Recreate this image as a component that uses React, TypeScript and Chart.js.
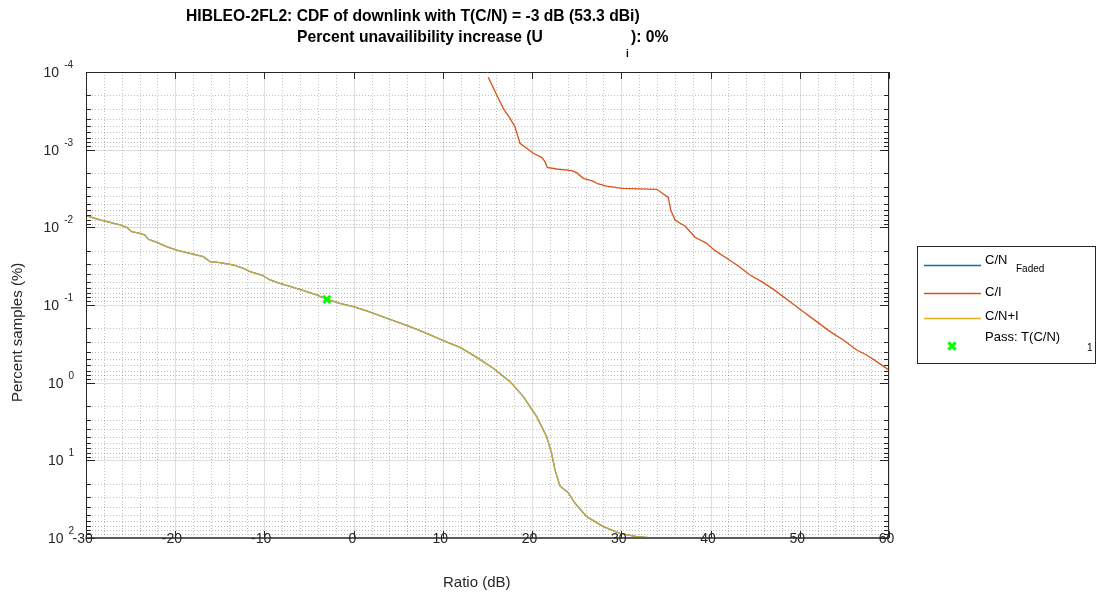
import { useEffect, useRef } from "react";
import { Chart, registerables } from "chart.js";

Chart.register(...registerables);

// ---------------- data ----------------
const cnRatio = [-30, -28.43, -26.19, -25.44, -24.88, -23.95, -23.39, -23.02, -22.27, -20.96, -19.84, -18.34, -16.85, -16.1, -14.98, -13.49, -12.37, -11.62, -10.31, -9.38, -8.26, -6.76, -5.27, -4.15, -2.95, -1.53, -0.04, 1.46, 4.07, 6.31, 8.18, 10.05, 11.92, 13.79, 15.65, 17.52, 19.02, 20.51, 21.63, 22.19, 22.56, 23.12, 24.06, 24.81, 26.12, 27.98, 29.85, 31.72, 33.4];
const cnPercent = [0.00708, 0.00804, 0.00933, 0.00998, 0.01138, 0.01194, 0.01256, 0.01426, 0.01528, 0.01774, 0.01959, 0.02163, 0.02388, 0.02767, 0.02851, 0.03055, 0.03373, 0.03724, 0.04111, 0.04764, 0.0526, 0.05916, 0.0673, 0.0743, 0.08453, 0.09528, 0.105, 0.1194, 0.1531, 0.1901, 0.2317, 0.2877, 0.3508, 0.4721, 0.6531, 0.9705, 1.514, 2.742, 4.955, 8.128, 13.3, 21.38, 26.06, 35.73, 53.09, 71.45, 87.1, 96.16, 100];

const ciRatio = [15.09, 16.03, 16.77, 17.52, 18.08, 18.64, 19.39, 20.13, 21.07, 21.44, 21.7, 22.75, 24.43, 24.99, 25.74, 26.67, 27.42, 28.36, 30.04, 33.96, 35.27, 35.53, 36.02, 36.58, 37.14, 38.26, 39.57, 40.5, 41.81, 43.12, 44.42, 45.92, 47.41, 48.91, 50.4, 51.9, 53.39, 54.88, 56.38, 57.5, 58.62, 60];
const ciPercent = [1.172e-4, 1.977e-4, 2.94e-4, 3.95e-4, 5.06e-4, 8.28e-4, 9.61e-4, 1.114e-3, 1.256e-3, 1.426e-3, 1.687e-3, 1.774e-3, 1.862e-3, 1.977e-3, 2.339e-3, 2.506e-3, 2.767e-3, 2.938e-3, 3.148e-3, 3.236e-3, 4.11e-3, 5.98e-3, 8.04e-3, 8.87e-3, 9.61e-3, 1.343e-2, 1.607e-2, 1.995e-2, 2.506e-2, 3.15e-2, 4.11e-2, 5.15e-2, 6.73e-2, 9.06e-2, 0.1219, 0.1637, 0.2203, 0.2825, 0.3793, 0.4406, 0.5358, 0.69];

const passRatio = [-3];
const passPercent = [0.0845];

const xTicks = [-30, -20, -10, 0, 10, 20, 30, 40, 50, 60];
const yDecades = [-4, -3, -2, -1, 0, 1, 2];

const titleLine1 = "HIBLEO-2FL2: CDF of downlink with T(C/N) = -3 dB (53.3 dBi)";
const titleLine2a = "Percent unavailibility increase (U";
const titleLine2Sub = "i";
const titleLine2b = "): 0%";
const xLabel = "Ratio (dB)";
const yLabel = "Percent samples (%)";

const legendItems = [
  { label: "C/N", sub: "Faded", color: "#0072BD", kind: "line" },
  { label: "C/I", sub: "", color: "#D95319", kind: "line" },
  { label: "C/N+I", sub: "", color: "#EDB120", kind: "line" },
  { label: "Pass: T(C/N)", sub: "1", color: "#00FF00", kind: "marker" },
];

// ---------------- layout ----------------
const W = 1097;
const H = 598;
const FONT = '"Liberation Sans", Arial, Helvetica, sans-serif';
const AX = "#262626";
const K = 1.33; // text-extent factor of the original renderer

const toXY = (xs: number[], ys: number[]) => xs.map((x, i) => ({ x, y: ys[i] }));

const matlabPlugin = {
  id: "matlabAxes",
  beforeDatasetsDraw(chart: any) {
    const { ctx, chartArea: a, scales } = chart;
    const xs = scales.x;
    const ys = scales.y;
    ctx.save();
    ctx.lineWidth = 1;
    // minor grid (dotted)
    ctx.strokeStyle = "rgba(26,26,26,0.27)";
    ctx.setLineDash([1, 2]);
    ctx.beginPath();
    for (let v = -30; v <= 60; v += 2) {
      if (v % 10 === 0) continue;
      const px = Math.round(xs.getPixelForValue(v)) + 0.5;
      ctx.moveTo(px, a.top);
      ctx.lineTo(px, a.bottom);
    }
    for (let i = 0; i < yDecades.length - 1; i++) {
      for (let k = 2; k <= 9; k++) {
        const py = Math.round(ys.getPixelForValue(k * Math.pow(10, yDecades[i]))) + 0.5;
        ctx.moveTo(a.left, py);
        ctx.lineTo(a.right, py);
      }
    }
    ctx.stroke();
    // major grid
    ctx.setLineDash([]);
    ctx.strokeStyle = "rgba(38,38,38,0.15)";
    ctx.beginPath();
    for (const v of xTicks) {
      const px = Math.round(xs.getPixelForValue(v)) + 0.5;
      ctx.moveTo(px, a.top);
      ctx.lineTo(px, a.bottom);
    }
    for (const d of yDecades) {
      const py = Math.round(ys.getPixelForValue(Math.pow(10, d))) + 0.5;
      ctx.moveTo(a.left, py);
      ctx.lineTo(a.right, py);
    }
    ctx.stroke();
    ctx.restore();
  },
  afterDraw(chart: any) {
    const { ctx, chartArea: a, scales } = chart;
    const xs = scales.x;
    const ys = scales.y;
    ctx.save();
    // axes box
    ctx.strokeStyle = AX;
    ctx.lineWidth = 1;
    ctx.beginPath();
    ctx.moveTo(a.left + 0.5, a.top);
    ctx.lineTo(a.left + 0.5, a.bottom);
    ctx.moveTo(a.left, a.top + 0.5);
    ctx.lineTo(a.right, a.top + 0.5);
    ctx.moveTo(a.right - 0.5, a.top);
    ctx.lineTo(a.right - 0.5, a.bottom);
    ctx.stroke();
    ctx.strokeStyle = "#5a5a5a";
    ctx.lineWidth = 2;
    ctx.beginPath();
    ctx.moveTo(a.left, a.bottom);
    ctx.lineTo(a.right, a.bottom);
    ctx.stroke();

    // ticks
    ctx.strokeStyle = AX;
    ctx.lineWidth = 1;
    ctx.beginPath();
    for (const v of xTicks) {
      const px = Math.round(xs.getPixelForValue(v)) + 0.5;
      ctx.moveTo(px, a.top);
      ctx.lineTo(px, a.top + 7);
      ctx.moveTo(px, a.bottom);
      ctx.lineTo(px, a.bottom - 7);
    }
    for (let i = 0; i < yDecades.length; i++) {
      const pyM = Math.round(ys.getPixelForValue(Math.pow(10, yDecades[i]))) + 0.5;
      ctx.moveTo(a.left, pyM);
      ctx.lineTo(a.left + 9, pyM);
      ctx.moveTo(a.right, pyM);
      ctx.lineTo(a.right - 9, pyM);
      if (i < yDecades.length - 1) {
        for (let k = 2; k <= 9; k++) {
          const py = Math.round(ys.getPixelForValue(k * Math.pow(10, yDecades[i]))) + 0.5;
          ctx.moveTo(a.left, py);
          ctx.lineTo(a.left + 5, py);
          ctx.moveTo(a.right, py);
          ctx.lineTo(a.right - 5, py);
        }
      }
    }
    ctx.stroke();

    // x tick labels (placed with the original's wider text extent)
    ctx.fillStyle = AX;
    ctx.font = `14px ${FONT}`;
    ctx.textAlign = "left";
    ctx.textBaseline = "alphabetic";
    for (const v of xTicks) {
      const s = String(v);
      const w = ctx.measureText(s).width;
      ctx.fillText(s, xs.getPixelForValue(v) - (K * w) / 2, a.bottom + 5);
    }
    // y tick labels: 10^d
    const R = 76;
    for (const d of yDecades) {
      const py = ys.getPixelForValue(Math.pow(10, d));
      const sup = String(d);
      ctx.font = `10px ${FONT}`;
      const sw = ctx.measureText(sup).width;
      const supX = R - K * sw;
      ctx.fillText(sup, supX, py - 4);
      ctx.font = `14px ${FONT}`;
      const tw = ctx.measureText("10").width;
      ctx.fillText("10", supX - K * tw, py + 5);
    }

    // axis labels
    ctx.font = `15px ${FONT}`;
    ctx.textAlign = "left";
    ctx.fillText(xLabel, 443, 587);
    ctx.save();
    ctx.translate(22, 402);
    ctx.rotate(-Math.PI / 2);
    ctx.fillText(yLabel, 0, 0);
    ctx.restore();

    // title
    ctx.fillStyle = "#000";
    ctx.font = `bold 15.7px ${FONT}`;
    ctx.textAlign = "left";
    ctx.fillText(titleLine1, 186, 21);
    ctx.fillText(titleLine2a, 297, 42);
    ctx.fillText(titleLine2b, 631, 42);
    ctx.font = `bold 10px ${FONT}`;
    ctx.fillText(titleLine2Sub, 626, 57);

    // legend
    const lx = 917, ly = 246, lw = 179, lh = 118;
    ctx.fillStyle = "#fff";
    ctx.fillRect(lx, ly, lw, lh);
    ctx.strokeStyle = AX;
    ctx.lineWidth = 1;
    ctx.strokeRect(lx + 0.5, ly + 0.5, lw - 1, lh - 1);
    const lineYs = [265, 293, 318, 346];
    const textYs = [264, 296, 320, 341];
    legendItems.forEach((it, i) => {
      if (it.kind === "line") {
        ctx.strokeStyle = it.color;
        ctx.lineWidth = 1.3;
        ctx.beginPath();
        ctx.moveTo(924, lineYs[i] + 0.5);
        ctx.lineTo(981, lineYs[i] + 0.5);
        ctx.stroke();
      } else {
        ctx.strokeStyle = it.color;
        ctx.lineWidth = 3;
        const cx = 952, cy = lineYs[i], r = 3.6;
        ctx.beginPath();
        ctx.moveTo(cx - r, cy - r);
        ctx.lineTo(cx + r, cy + r);
        ctx.moveTo(cx - r, cy + r);
        ctx.lineTo(cx + r, cy - r);
        ctx.stroke();
      }
      ctx.fillStyle = "#000";
      ctx.font = `13px ${FONT}`;
      ctx.textAlign = "left";
      ctx.fillText(it.label, 985, textYs[i]);
    });
    ctx.font = `10px ${FONT}`;
    ctx.fillText(legendItems[0].sub, 1016, 272);
    ctx.fillText(legendItems[3].sub, 1087, 351);
    ctx.restore();
  },
};

export default function App() {
  const ref = useRef<HTMLCanvasElement | null>(null);
  useEffect(() => {
    if (!ref.current) return;
    const chart = new Chart(ref.current, {
      type: "line",
      data: {
        datasets: [
          {
            label: "Pass: T(C/N)",
            data: toXY(passRatio, passPercent),
            showLine: false,
            pointStyle: "crossRot",
            pointRadius: 5,
            pointBorderWidth: 3,
            pointBorderColor: "#00FF00",
            pointBackgroundColor: "#00FF00",
            borderColor: "#00FF00",
            order: 0,
          },
          {
            label: "C/N+I",
            data: toXY(cnRatio, cnPercent),
            borderColor: "rgba(237,177,32,0.88)",
            borderWidth: 1.3,
            pointRadius: 0,
            tension: 0,
            order: 1,
          },
          {
            label: "C/I",
            data: toXY(ciRatio, ciPercent),
            borderColor: "#D95319",
            borderWidth: 1.3,
            pointRadius: 0,
            tension: 0,
            order: 2,
          },
          {
            label: "C/N Faded",
            data: toXY(cnRatio, cnPercent),
            borderColor: "#0072BD",
            borderWidth: 1.3,
            pointRadius: 0,
            tension: 0,
            order: 3,
          },
        ],
      },
      options: {
        responsive: false,
        animation: false,
        devicePixelRatio: 1,
        layout: { padding: { top: 72, right: 208, bottom: 0, left: 0 } },
        plugins: {
          legend: { display: false },
          tooltip: { enabled: false },
          title: { display: false },
        },
        scales: {
          x: {
            type: "linear",
            min: -30,
            max: 60,
            ticks: { display: false },
            grid: { display: false },
            border: { display: false },
            afterFit: (s: any) => {
              s.height = 60;
            },
          },
          y: {
            type: "logarithmic",
            min: 1e-4,
            max: 100,
            reverse: true,
            ticks: { display: false },
            grid: { display: false },
            border: { display: false },
            afterFit: (s: any) => {
              s.width = 86;
            },
          },
        },
      },
      plugins: [matlabPlugin],
    } as any);
    return () => chart.destroy();
  }, []);
  return (
    <div style={{ position: "absolute", left: 0, top: 0, width: W, height: H, background: "#fff" }}>
      <canvas ref={ref} width={W} height={H} style={{ display: "block", width: W, height: H }} />
    </div>
  );
}
